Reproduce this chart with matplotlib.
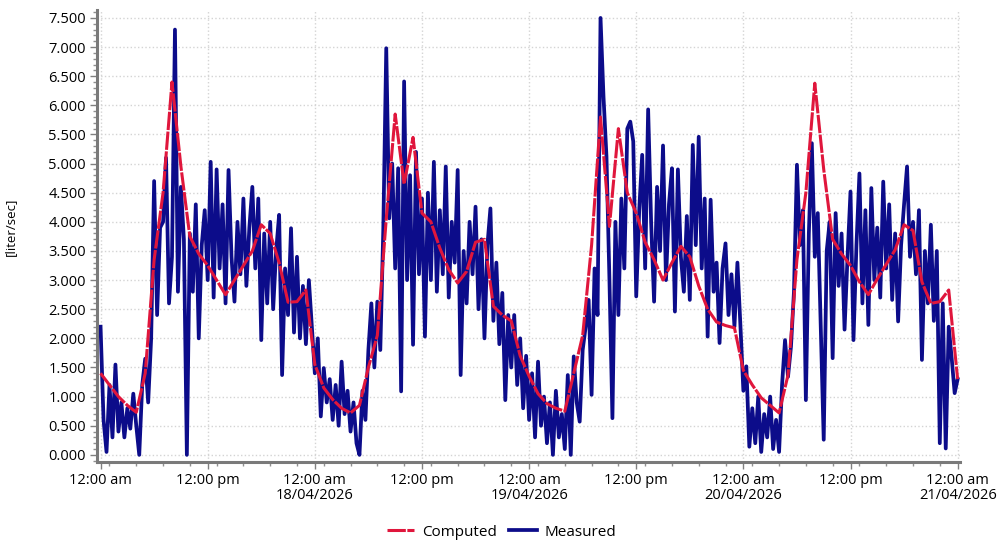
import matplotlib
matplotlib.use("Agg")
import matplotlib.pyplot as plt
import matplotlib.dates as mdates
from matplotlib.ticker import MultipleLocator, FuncFormatter
from datetime import datetime, timedelta

# start of the record
start = datetime(2026, 4, 17)

# computed flow, one value per hour (liter/sec)
computed = [
    1.40, 1.20, 1.00, 0.85, 0.73, 1.40, 3.35, 4.50, 6.40, 4.95, 3.75, 3.45,
    3.25, 3.00, 2.75, 3.00, 3.25, 3.50, 3.95, 3.80, 3.30, 2.62, 2.63, 2.83,
    1.55, 1.15, 0.95, 0.80, 0.72, 0.85, 1.50, 2.05, 4.05, 5.85, 4.65, 5.45,
    4.15, 4.00, 3.55, 3.18, 2.95, 3.15, 3.65, 3.70, 2.55, 2.40, 2.30, 1.70,
    1.35, 1.05, 0.88, 0.80, 0.75, 1.40, 2.05, 3.60, 5.80, 3.92, 5.60, 4.50,
    4.15, 3.65, 3.35, 3.00, 3.30, 3.58, 3.40, 2.90, 2.50, 2.28, 2.22, 2.18,
    1.45, 1.20, 0.98, 0.85, 0.72, 1.37, 3.35, 4.50, 6.38, 4.90, 3.70, 3.45,
    3.25, 2.97, 2.75, 3.02, 3.27, 3.52, 3.95, 3.85, 2.97, 2.60, 2.63, 2.83,
    1.30,
]

# measured flow, one value every 20 minutes (liter/sec)
measured = [
    2.20, 0.60, 0.05, 1.20, 0.30, 1.55, 0.40, 0.90, 0.30, 0.80, 0.45, 1.05,
    0.50, 0.00, 1.20, 1.65, 0.90, 2.00, 4.70, 2.40, 3.90, 4.00, 5.10, 2.60,
    3.40, 7.30, 2.80, 4.60, 3.70, 0.00, 3.80, 2.80, 4.30, 2.00, 3.60, 4.20,
    3.00, 5.03, 2.70, 4.90, 3.20, 4.30, 2.60, 4.89, 3.40, 2.63, 4.00, 3.10,
    4.40, 2.90, 3.90, 4.60, 3.20, 4.40, 1.97, 3.80, 2.60, 4.00, 2.50, 3.50,
    4.12, 1.37, 3.20, 2.40, 3.89, 2.10, 3.40, 2.00, 2.90, 1.90, 3.00, 2.20,
    1.40, 2.00, 0.66, 1.49, 0.90, 1.30, 0.60, 1.20, 0.50, 1.60, 0.70, 1.10,
    0.40, 0.90, 0.20, 0.00, 1.10, 0.60, 1.80, 2.60, 1.50, 2.63, 1.80, 3.86,
    6.98, 4.06, 5.00, 3.20, 4.92, 1.09, 6.41, 3.00, 4.80, 1.89, 5.20, 3.10,
    4.40, 2.03, 4.50, 3.00, 5.03, 2.80, 4.20, 3.10, 4.95, 2.70, 4.00, 3.30,
    4.89, 1.37, 3.50, 2.60, 4.00, 3.10, 4.26, 2.50, 3.70, 2.00, 3.60, 4.23,
    2.30, 3.30, 1.90, 2.78, 0.94, 2.40, 1.50, 2.40, 1.20, 2.00, 0.80, 1.70,
    0.60, 1.40, 0.30, 1.60, 0.50, 1.00, 0.20, 0.90, 0.00, 1.10, 0.30, 0.70,
    0.10, 1.37, 0.00, 1.69, 0.90, 0.57, 1.80, 2.20, 2.66, 1.03, 3.20, 2.40,
    7.50, 6.15, 5.12, 3.00, 0.63, 4.00, 2.40, 4.40, 3.20, 5.60, 5.72, 5.38,
    2.72, 4.20, 5.15, 3.20, 5.93, 4.00, 2.63, 4.60, 3.50, 5.31, 3.00, 4.30,
    4.92, 2.46, 4.90, 3.40, 2.80, 4.10, 2.66, 5.32, 3.60, 5.46, 3.20, 4.40,
    2.03, 4.38, 2.80, 3.30, 1.92, 3.20, 3.63, 2.40, 3.10, 2.20, 3.30, 2.23,
    1.10, 1.52, 0.14, 0.80, 0.20, 1.00, 0.05, 0.70, 0.30, 1.00, 0.10, 0.60,
    0.05, 1.20, 1.97, 1.34, 1.86, 2.80, 4.98, 3.60, 4.20, 0.94, 3.80, 5.35,
    3.40, 4.15, 2.20, 0.26, 3.50, 4.00, 1.66, 4.15, 2.90, 3.80, 2.15, 3.40,
    4.52, 1.97, 3.60, 4.83, 2.60, 4.20, 2.23, 4.58, 3.00, 3.90, 2.70, 4.69,
    3.20, 4.30, 2.66, 3.80, 2.29, 3.60, 4.30, 4.95, 3.40, 4.00, 3.10, 4.20,
    1.63, 3.50, 2.60, 3.95, 2.30, 3.50, 0.20, 2.60, 0.11, 2.20, 1.66, 1.06,
    1.30,
]

t_computed = [start + timedelta(hours=i) for i in range(len(computed))]
t_measured = [start + timedelta(minutes=20 * i) for i in range(len(measured))]

plt.rcParams['font.family'] = ['Open Sans', 'DejaVu Sans']

fig = plt.figure(figsize=(10.03, 5.44), dpi=100)
ax = fig.add_axes([0.0967, 0.151, 0.8603, 0.831])

ax.plot(t_measured, measured, color='#0c0c8a', lw=2.7, label='Measured', zorder=2)
ax.plot(t_computed, computed, color='#e0163c', lw=2.2, dashes=(6, 0.5),
        label='Computed', zorder=3)

ax.set_xlim(start - timedelta(hours=0.4), start + timedelta(hours=96.25))
ax.set_ylim(-0.12, 7.64)

# y axis
ax.yaxis.set_major_locator(MultipleLocator(0.5))
ax.yaxis.set_minor_locator(MultipleLocator(0.1))
ax.yaxis.set_major_formatter(FuncFormatter(lambda v, p: f"{v:.3f}"))
ax.set_ylabel('[liter/sec]', fontsize=9.5)
ax.yaxis.set_label_coords(-0.093, 0.52)

# x axis
def fmt_time(x, pos):
    d = mdates.num2date(x).replace(tzinfo=None)
    s = d.strftime('%I:%M ') + d.strftime('%p').lower()
    if d.hour == 0 and d.date() != start.date():
        s += '\n' + d.strftime('%d/%m/%Y')
    return s

ax.xaxis.set_major_locator(mdates.HourLocator(byhour=[0, 12]))
ax.xaxis.set_minor_locator(mdates.HourLocator(interval=3))
ax.xaxis.set_major_formatter(FuncFormatter(fmt_time))

ax.tick_params(axis='both', which='major', labelsize=10.5, length=5,
               color='#808080', width=1)
ax.tick_params(axis='both', which='minor', length=3, color='#909090', width=1)
ax.tick_params(axis='x', pad=3)
ax.tick_params(axis='y', pad=3)
for lab in ax.get_xticklabels():
    lab.set_linespacing(1.0)

ax.grid(True, which='major', color='#d4d4d4', linestyle=':', lw=1)

for side in ['top', 'right']:
    ax.spines[side].set_visible(False)
for side in ['left', 'bottom']:
    ax.spines[side].set_color('#7a7a7a')
    ax.spines[side].set_linewidth(2.2)

handles, labels = ax.get_legend_handles_labels()
leg = fig.legend(handles[::-1], labels[::-1], loc='center',
                 bbox_to_anchor=(0.5, 0.022), ncol=2, frameon=False,
                 fontsize=11, handlelength=1.8, columnspacing=0.8,
                 handletextpad=0.5)

fig.savefig('out.png', dpi=100)
